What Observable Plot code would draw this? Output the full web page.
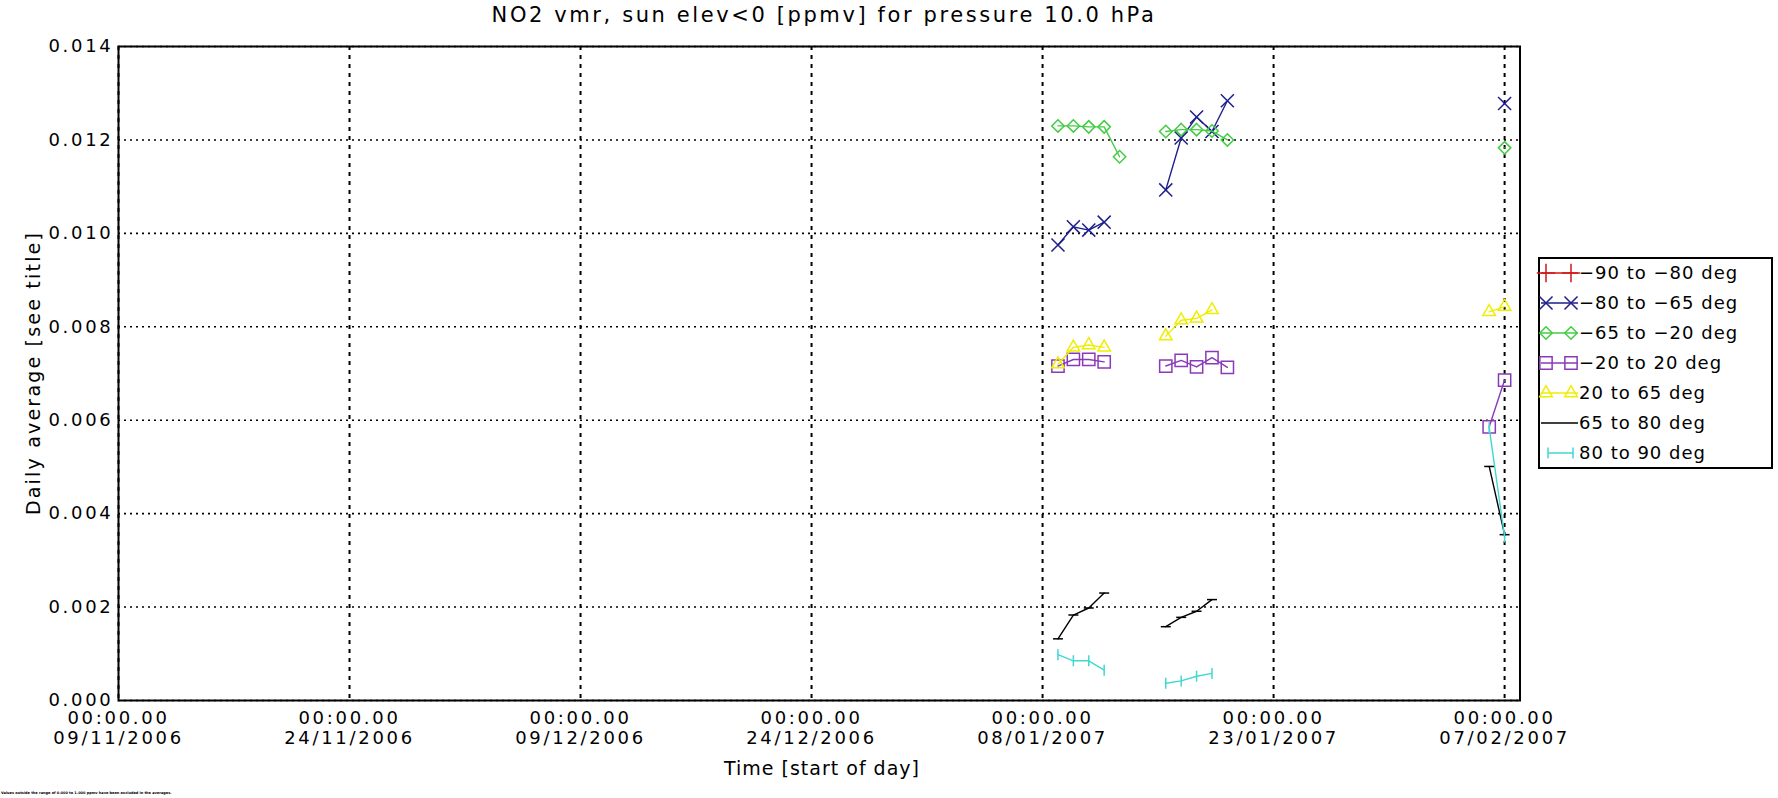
<!DOCTYPE html>
<html><head><meta charset="utf-8">
<script src="https://cdn.jsdelivr.net/npm/d3@7"></script>
<script src="https://cdn.jsdelivr.net/npm/@observablehq/plot@0.6"></script>
<style>
body{margin:0;background:#fff;}
#wrap{position:relative;width:1778px;height:798px;overflow:hidden;font-family:"DejaVu Sans",sans-serif;color:#000;background:#fff;}
.t{position:absolute;white-space:nowrap;transform:translate(-50%,-50%);letter-spacing:1px;}
#plot{position:absolute;left:0;top:0;}
#legend{position:absolute;left:0;top:0;}
</style></head><body><div id="wrap"><div id="plot"></div></div>
<script>
// ---------- data ----------
const seriesNames = ["−90 to −80 deg","−80 to −65 deg","−65 to −20 deg","−20 to 20 deg","20 to 65 deg","65 to 80 deg","80 to 90 deg"];
const seriesColors = ["#d01818","#1e1e8c","#44cc44","#8a3ab8","#eeee00","#000000","#40d8d0"];
const seriesSymbols = ["plus","times","diamond2","square2","triangle2","hbar","vbar"];

const dates_s1 = [];
const values_s1 = [];
const dates_s2 = ["2007-01-09","2007-01-10","2007-01-11","2007-01-12","2007-01-16","2007-01-17","2007-01-18","2007-01-19","2007-01-20","2007-02-07"];
const values_s2 = [0.00975,0.01014,0.01007,0.01024,0.01093,0.01204,0.01249,0.01218,0.01284,0.01278];
const dates_s3 = ["2007-01-09","2007-01-10","2007-01-11","2007-01-12","2007-01-13","2007-01-16","2007-01-17","2007-01-18","2007-01-19","2007-01-20","2007-02-07"];
const values_s3 = [0.01230,0.01230,0.01228,0.01228,0.01164,0.01218,0.01222,0.01222,0.01219,0.01200,0.01183];
const dates_s4 = ["2007-01-09","2007-01-10","2007-01-11","2007-01-12","2007-01-16","2007-01-17","2007-01-18","2007-01-19","2007-01-20","2007-02-06","2007-02-07"];
const values_s4 = [0.00716,0.00730,0.00730,0.00725,0.00716,0.00728,0.00714,0.00734,0.00713,0.00586,0.00686];
const dates_s5 = ["2007-01-09","2007-01-10","2007-01-11","2007-01-12","2007-01-16","2007-01-17","2007-01-18","2007-01-19","2007-02-06","2007-02-07"];
const values_s5 = [0.00720,0.00756,0.00761,0.00756,0.00780,0.00814,0.00818,0.00836,0.00832,0.00843];
const dates_s6 = ["2007-01-09","2007-01-10","2007-01-11","2007-01-12","2007-01-16","2007-01-17","2007-01-18","2007-01-19","2007-02-06","2007-02-07"];
const values_s6 = [0.00132,0.00183,0.00198,0.00230,0.00158,0.00178,0.00191,0.00216,0.00501,0.00355];
const dates_s7 = ["2007-01-09","2007-01-10","2007-01-11","2007-01-12","2007-01-16","2007-01-17","2007-01-18","2007-01-19","2007-02-06","2007-02-07"];
const values_s7 = [0.00098,0.00085,0.00085,0.00065,0.00037,0.00042,0.00052,0.00058,0.00584,0.00350];

const xTickDates = ["2006-11-09","2006-11-24","2006-12-09","2006-12-24","2007-01-08","2007-01-23","2007-02-07"];
const yTicks = [0,0.002,0.004,0.006,0.008,0.010,0.012,0.014];
const xDomain = ["2006-11-09","2007-02-08"];
const titleText = "NO2 vmr, sun elev<0 [ppmv] for pressure 10.0 hPa";
const xLabel = "Time [start of day]";
const yLabel = "Daily average [see title]";
const footnote = "Values outside the range of 0.000 to 1.000 ppmv have been excluded in the averages.";

// ---------- build ----------
const allDates = [dates_s1,dates_s2,dates_s3,dates_s4,dates_s5,dates_s6,dates_s7];
const allValues = [values_s1,values_s2,values_s3,values_s4,values_s5,values_s6,values_s7];
const rows = [];
allDates.forEach((ds,i)=>{
  let seg = 0, prev = null;
  ds.forEach((d,j)=>{
    const t = new Date(d);
    if (prev && (t - prev) > 1.5*864e5) seg++;
    prev = t;
    rows.push({series: seriesNames[i], si: i, date: t, value: allValues[i][j], seg: i+"-"+seg});
  });
});

const hbar = {draw(ctx,size){const r=Math.sqrt(size/Math.PI);ctx.moveTo(-r,0);ctx.lineTo(r,0);}};
const vbar = {draw(ctx,size){const r=Math.sqrt(size/Math.PI);ctx.moveTo(0,-r);ctx.lineTo(0,r);}};
const symObj = {hbar, vbar};
const symR = {plus:6, times:6, diamond2:5.6, square2:7.8, triangle2:6, hbar:5, vbar:5.5};

const fmt = d3.utcFormat("%d/%m/%Y");
const marks = [
  Plot.gridX(xTickDates.map(d=>new Date(d)), {stroke:"#000", strokeOpacity:1, strokeWidth:2, strokeDasharray:"4,5"}),
  Plot.gridY(yTicks, {stroke:"#000", strokeOpacity:1, strokeWidth:1.6, strokeDasharray:"2,4"}),
];
seriesNames.forEach((s,i)=>{
  const data = rows.filter(r=>r.si===i);
  if (!data.length) return;
  marks.push(Plot.line(data, {x:"date", y:"value", z:"seg", stroke:seriesColors[i], strokeWidth:1.4}));
  const sym = symObj[seriesSymbols[i]] || seriesSymbols[i];
  marks.push(Plot.dot(data, {x:"date", y:"value", symbol: sym, r: symR[seriesSymbols[i]], stroke:seriesColors[i], fill:"none", strokeWidth:1.5}));
});
marks.push(Plot.frame({stroke:"#000", strokeWidth:2}));
marks.push(Plot.axisX(xTickDates.map(d=>new Date(d)), {tickSize:0, tickPadding:10, tickFormat:d=>"00:00.00\n"+fmt(d), label:null, lineHeight:1.08, fontSize:18}));
marks.push(Plot.axisY(yTicks, {tickSize:0, tickPadding:5, tickFormat:d3.format(".3f"), label:null, fontSize:18}));

const chart = Plot.plot({
  width:1778, height:798,
  marginLeft:118, marginRight:258.5, marginTop:46, marginBottom:98,
  x:{type:"utc", domain:xDomain.map(d=>new Date(d))},
  y:{domain:[0,0.014]},
  style:{fontFamily:"DejaVu Sans, sans-serif", fontSize:"18px", background:"transparent", color:"#000", letterSpacing:"2.7px"},
  marks
});
document.getElementById("plot").appendChild(chart);

const wrap = document.getElementById("wrap");
function addText(txt, x, y, size, extra){
  const d = document.createElement("div");
  d.className = "t"; d.textContent = txt;
  d.style.left = x+"px"; d.style.top = y+"px"; d.style.fontSize = size+"px";
  if (extra) Object.assign(d.style, extra);
  wrap.appendChild(d); return d;
}
addText(titleText, 824, 15, 21, {letterSpacing:"2.6px"});
addText(xLabel, 822, 768, 19, {letterSpacing:"1px"});
addText(yLabel, 33, 373, 19, {transform:"translate(-50%,-50%) rotate(-90deg)", letterSpacing:"2.2px"});
addText(footnote, 1, 793, 3.5, {transform:"translate(0,-50%)", fontWeight:"bold", letterSpacing:"0px"});

// ---------- legend ----------
const lg = d3.select(wrap).append("svg").attr("id","legend").attr("width",1778).attr("height",798);
lg.append("rect").attr("x",1539).attr("y",258).attr("width",233).attr("height",210)
  .attr("fill","none").attr("stroke","#000").attr("stroke-width",2);
const d3sym = {plus:d3.symbolPlus,times:d3.symbolTimes,diamond2:d3.symbolDiamond2,square2:d3.symbolSquare2,triangle2:d3.symbolTriangle2};
seriesNames.forEach((s,i)=>{
  const y = 273 + i*30, c = seriesColors[i], k = seriesSymbols[i];
  const g = lg.append("g");
  const x0 = k==="vbar" ? 1548 : 1541, x1 = k==="vbar" ? 1573 : 1578;
  g.append("line").attr("x1",x0).attr("x2",x1).attr("y1",y).attr("y2",y).attr("stroke",c).attr("stroke-width",1.5);
  if (k !== "hbar") {
    const typ = symObj[k] || d3sym[k];
    const sz = Math.PI*symR[k]*symR[k];
    [k==="vbar"?1548:1546, k==="vbar"?1573:1571].forEach(xx=>{
      g.append("path").attr("d", d3.symbol(typ, sz)()).attr("transform",`translate(${xx},${y})`)
        .attr("fill","none").attr("stroke",c).attr("stroke-width",1.5);
    });
  }
  g.append("text").attr("x", 1579).attr("y", y).attr("dy","0.35em")
    .attr("font-family","DejaVu Sans, sans-serif").attr("font-size",18).attr("letter-spacing","1px").text(s);
});
</script></body></html>
